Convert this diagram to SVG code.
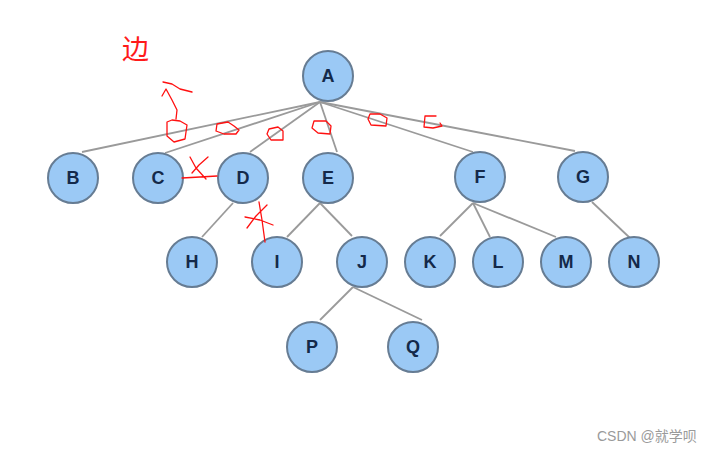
<svg xmlns="http://www.w3.org/2000/svg" width="712" height="451" viewBox="0 0 712 451">
<style>
.n circle{fill:#9bc9f5;stroke:#667c93;stroke-width:2}
.n text{font-family:"Liberation Sans",Arial,sans-serif;font-weight:bold;font-size:18px;fill:#14294a;text-anchor:middle}
#edges line{stroke:#9a9a9a;stroke-width:1.8}
.red{fill:none;stroke:#ff1010;stroke-width:1.3;stroke-linecap:round;stroke-linejoin:round}
</style>
<rect width="712" height="451" fill="#ffffff"/>
<g id="edges">
<line x1="320" y1="102" x2="82" y2="152"/>
<line x1="320" y1="102" x2="165" y2="153"/>
<line x1="320" y1="102" x2="250" y2="152"/>
<line x1="320" y1="102" x2="337" y2="152"/>
<line x1="320" y1="102" x2="473" y2="152"/>
<line x1="320" y1="102" x2="575" y2="151"/>
<line x1="233" y1="203" x2="202" y2="237"/>
<line x1="320" y1="203" x2="287" y2="237"/>
<line x1="320" y1="203" x2="352" y2="236"/>
<line x1="473" y1="203" x2="440" y2="236"/>
<line x1="473" y1="203" x2="490" y2="237"/>
<line x1="473" y1="203" x2="556" y2="237"/>
<line x1="592" y1="202" x2="630" y2="238"/>
<line x1="353" y1="287" x2="320" y2="320"/>
<line x1="353" y1="287" x2="422" y2="320"/>
</g>
<g id="A" class="n"><circle cx="328" cy="76" r="25"/><text x="328" y="82">A</text></g>
<g id="B" class="n"><circle cx="73" cy="178" r="25"/><text x="73" y="184">B</text></g>
<g id="C" class="n"><circle cx="158" cy="178" r="25"/><text x="158" y="184">C</text></g>
<g id="D" class="n"><circle cx="243" cy="178" r="25"/><text x="243" y="184">D</text></g>
<g id="E" class="n"><circle cx="328" cy="178" r="25"/><text x="328" y="184">E</text></g>
<g id="F" class="n"><circle cx="480" cy="177" r="25"/><text x="480" y="183">F</text></g>
<g id="G" class="n"><circle cx="583" cy="177" r="25"/><text x="583" y="183">G</text></g>
<g id="H" class="n"><circle cx="192" cy="262" r="25"/><text x="192" y="268">H</text></g>
<g id="I" class="n"><circle cx="277" cy="262" r="25"/><text x="277" y="268">I</text></g>
<g id="J" class="n"><circle cx="362" cy="262" r="25"/><text x="362" y="268">J</text></g>
<g id="K" class="n"><circle cx="430" cy="262" r="25"/><text x="430" y="268">K</text></g>
<g id="L" class="n"><circle cx="498" cy="262" r="25"/><text x="498" y="268">L</text></g>
<g id="M" class="n"><circle cx="566" cy="262" r="25"/><text x="566" y="268">M</text></g>
<g id="N" class="n"><circle cx="634" cy="262" r="25"/><text x="634" y="268">N</text></g>
<g id="P" class="n"><circle cx="312" cy="347" r="25"/><text x="312" y="353">P</text></g>
<g id="Q" class="n"><circle cx="413" cy="347" r="25"/><text x="413" y="353">Q</text></g>
<rect x="0" y="373" width="712" height="78" fill="#ffffff"/>
<g id="annotations">
<text x="122" y="59" font-family="'Noto Sans CJK SC',sans-serif" font-size="27" fill="#ff1a1a">边</text>
<path class="red" d="M176,119 L177,110 L172,100 L166,89 L162,96 M163,82 L172,84 L180,89 L192,92"/>
<path class="red" d="M172,120 L167,122 L167,136 L174,142 L185,139 L187,125 L180,121 Z"/>
<path class="red" d="M217,124 L228,122 L234,126 L239,130 L236,134 L224,134 L216,131 Z"/>
<path class="red" d="M269,129 L278,127 L283,131 L283,140 L271,140 L267,134 Z"/>
<path class="red" d="M314,121 L326,121 L331,126 L330,134 L318,133 L312,128 Z"/>
<path class="red" d="M370,114 L380,114 L387,118 L386,126 L371,125 L368,119 Z"/>
<path class="red" d="M425,116 L436,116 M425,116 L424,127 L433,128 L442,126 L440,123"/>
<path class="red" d="M182,178 L200,177 L217,176 M190,157 L196,168 L206,179 M208,157 L199,165 L192,173"/>
<path class="red" d="M259,202 L262,220 L265,242 M245,217 L260,220 L273,225 M267,205 L256,216 L247,228"/>
</g>
<text x="597" y="441" font-family="'Liberation Sans','Noto Sans CJK SC',sans-serif" font-size="14" fill="#9a9a9a">CSDN @就学呗</text>
</svg>
